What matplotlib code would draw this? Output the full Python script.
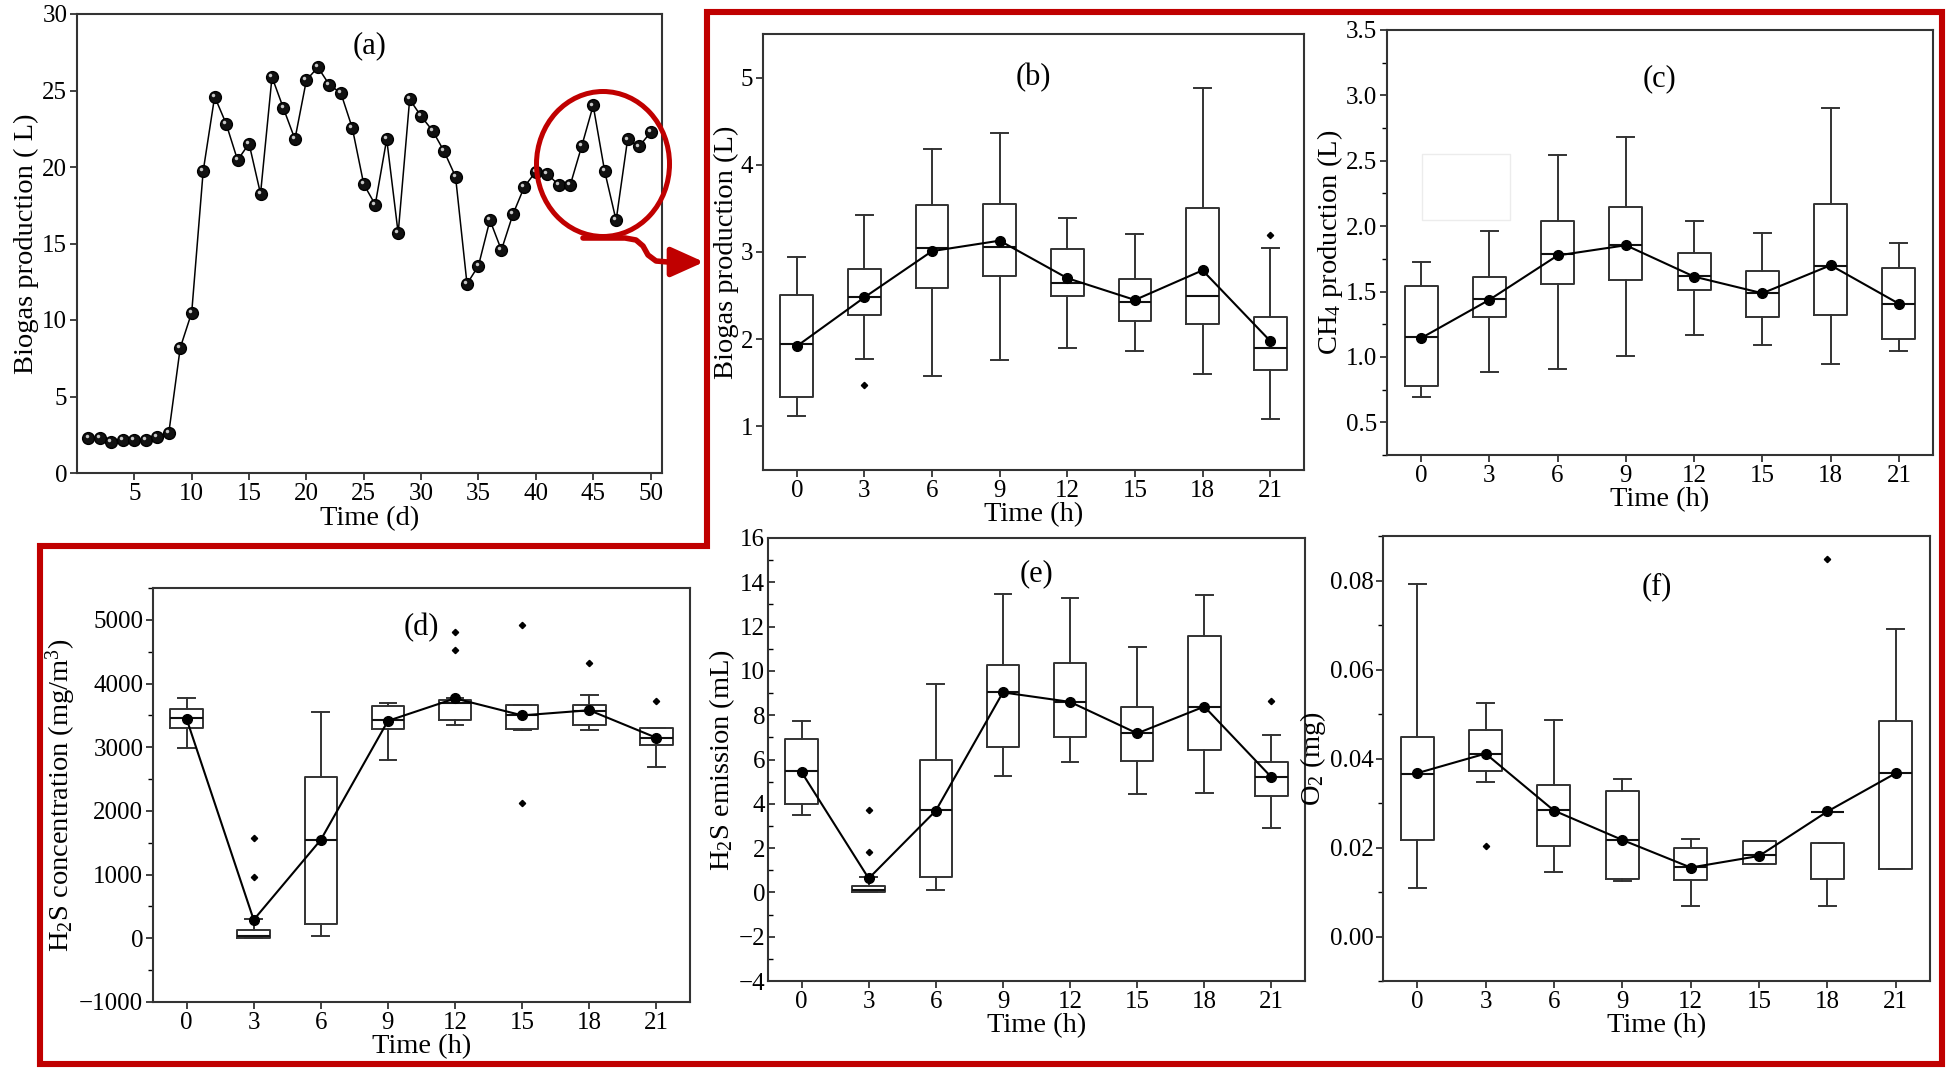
import matplotlib.pyplot as plt
import numpy as np
from matplotlib import transforms
from matplotlib.patches import Ellipse, FancyArrowPatch, Polygon, Rectangle
from matplotlib.path import Path
from matplotlib.ticker import MultipleLocator, FormatStrFormatter

plt.rcParams['font.family'] = ['Liberation Serif', 'DejaVu Serif']
plt.rcParams['mathtext.fontset'] = 'custom'
plt.rcParams['mathtext.rm'] = 'Liberation Serif'
plt.rcParams['mathtext.it'] = 'Liberation Serif:italic'

# ---- data -----------------------------------------------------------------
days = list(range(1, 51))
daily_biogas = [2.31, 2.31, 2.05, 2.14, 2.14, 2.14, 2.36, 2.6, 8.18, 10.49,
                19.73, 24.6, 22.83, 20.45, 21.53, 18.25, 25.88, 23.83, 21.82, 25.68,
                26.52, 25.37, 24.84, 22.55, 18.87, 17.54, 21.82, 15.67, 24.42, 23.32,
                22.37, 21.03, 19.37, 12.36, 13.55, 16.53, 14.57, 16.9, 18.71, 19.7,
                19.55, 18.82, 18.82, 21.36, 24.02, 19.73, 16.51, 21.8, 21.34, 22.26]

hours = [0, 3, 6, 9, 12, 15, 18, 21]

# (b) biogas production, L
b_low = [1.12, 1.77, 1.58, 1.76, 1.90, 1.86, 1.60, 1.09]
b_q1 = [1.34, 2.28, 2.59, 2.73, 2.50, 2.21, 2.18, 1.65]
b_med = [1.94, 2.48, 3.05, 3.06, 2.64, 2.43, 2.49, 1.90]
b_q3 = [2.51, 2.81, 3.54, 3.55, 3.03, 2.69, 3.50, 2.26]
b_high = [2.94, 3.42, 4.18, 4.37, 3.39, 3.21, 4.88, 3.05]
b_mean = [1.92, 2.48, 3.01, 3.13, 2.70, 2.45, 2.79, 1.98]
b_out = [[], [1.47], [], [], [], [], [], [3.19]]

# (c) CH4 production, L
c_low = [0.695, 0.882, 0.907, 1.007, 1.167, 1.094, 0.944, 1.047]
c_q1 = [0.775, 1.309, 1.554, 1.589, 1.511, 1.302, 1.324, 1.139]
c_med = [1.149, 1.442, 1.786, 1.856, 1.619, 1.489, 1.699, 1.407]
c_q3 = [1.539, 1.611, 2.041, 2.143, 1.796, 1.656, 2.166, 1.679]
c_high = [1.729, 1.961, 2.541, 2.68, 2.039, 1.944, 2.90, 1.869]
c_mean = [1.144, 1.437, 1.776, 1.854, 1.614, 1.487, 1.701, 1.407]
c_out = [[], [], [], [], [], [], [], []]

# (d) H2S concentration, mg/m3
d_low = [2986, 0, 30, 2800, 3350, 3275, 3267, 2683]
d_q1 = [3300, 10, 230, 3285, 3430, 3285, 3349, 3040]
d_med = [3457, 30, 1546, 3420, 3700, 3500, 3570, 3143]
d_q3 = [3603, 130, 2531, 3650, 3740, 3665, 3668, 3300]
d_high = [3771, 300, 3549, 3690, 3770, 3670, 3825, 3305]
d_mean = [3446, 290, 1546, 3414, 3766, 3500, 3581, 3148]
d_out = [[], [1573, 956], [], [], [4810, 4534], [4913, 2130], [4329], [3733]]

# (e) H2S emission, mL
e_low = [3.51, 0.0, 0.10, 5.24, 5.87, 4.46, 4.50, 2.89]
e_q1 = [4.00, 0.02, 0.69, 6.57, 7.02, 5.93, 6.41, 4.34]
e_med = [5.48, 0.10, 3.72, 9.03, 8.60, 7.18, 8.39, 5.20]
e_q3 = [6.94, 0.30, 5.96, 10.26, 10.37, 8.39, 11.56, 5.87]
e_high = [7.74, 0.68, 9.42, 13.46, 13.30, 11.09, 13.41, 7.11]
e_mean = [5.43, 0.63, 3.69, 9.03, 8.60, 7.18, 8.39, 5.20]
e_out = [[], [3.72, 1.81], [], [], [], [], [], [8.63]]

# (f) O2, mg
f_low = [0.0109, 0.0348, 0.0145, 0.0124, 0.0068, 0.0163, 0.0068, 0.0151]
f_q1 = [0.0216, 0.0373, 0.0203, 0.0130, 0.0128, 0.0163, 0.0130, 0.0151]
f_med = [0.0366, 0.0410, 0.0285, 0.0217, 0.0157, 0.0183, 0.0280, 0.0367]
f_q3 = [0.0448, 0.0463, 0.0341, 0.0326, 0.0200, 0.0215, 0.0210, 0.0485]
f_high = [0.0792, 0.0524, 0.0487, 0.0355, 0.0218, 0.0215, 0.0210, 0.0691]
f_mean = [0.0367, 0.0411, 0.0283, 0.0217, 0.0155, 0.0181, 0.0281, 0.0367]
f_out = [[], [0.0203], [], [], [], [], [0.0849], []]

# ---- figure ----------------------------------------------------------------
W, H = 1948, 1072
RED = '#C00000'
EDGE = '#333333'
TICK_FS = 18
LABEL_FS = 20.5
LETTER_FS = 22

fig = plt.figure(figsize=(W / 100, H / 100), dpi=100)


def px_rect(left, top, right, bottom):
    """Axes rectangle from pixel edges (origin top-left)."""
    return [left / W, 1 - bottom / H, (right - left) / W, (bottom - top) / H]


def px(x, y):
    return (x / W, 1 - y / H)


def style_axes(ax, ydir='out'):
    for sp in ax.spines.values():
        sp.set_linewidth(1.5)
        sp.set_color(EDGE)
    ax.tick_params(axis='both', which='major', labelsize=TICK_FS, width=1.3,
                   length=5, color=EDGE, pad=2)
    ax.tick_params(axis='y', which='both', direction=ydir)
    ax.tick_params(axis='y', which='minor', length=3.5, width=1.0)


def box_panel(ax, low, q1, med, q3, high, mean, out, ylabel, letter, letter_y):
    stats = []
    for i in range(len(hours)):
        stats.append(dict(whislo=low[i], q1=q1[i], med=med[i], q3=q3[i],
                          whishi=high[i], fliers=out[i]))
    line = dict(color=EDGE, linewidth=1.4)
    ax.bxp(stats, positions=hours, widths=1.45, capwidths=0.75,
           boxprops=line, whiskerprops=line, capprops=line,
           medianprops=dict(color='#111111', linewidth=1.5),
           flierprops=dict(marker='D', markersize=3.2, markerfacecolor='black',
                           markeredgecolor='black'),
           manage_ticks=False)
    ax.plot(hours, mean, '-o', color='black', linewidth=1.5, markersize=7, zorder=5)
    ax.set_xlim(-1.5, 22.5)
    ax.set_xticks(hours)
    ax.set_xlabel('Time (h)', fontsize=LABEL_FS, labelpad=0)
    ax.set_ylabel(ylabel, fontsize=LABEL_FS, labelpad=1)
    ax.text(0.5, letter_y, letter, transform=ax.transAxes, ha='center', va='center',
            fontsize=LETTER_FS)


# (a) daily biogas production
ax_a = fig.add_axes(px_rect(77, 14, 662, 473))
ax_a.plot(days, daily_biogas, '-', color='black', linewidth=1.1, zorder=2)
ax_a.plot(days, daily_biogas, 'o', color='#111111', markeredgecolor='black',
          markersize=8.5, zorder=3)
shine = transforms.offset_copy(ax_a.transData, fig=fig, x=-1.4, y=1.4, units='points')
ax_a.plot(days, daily_biogas, 'o', color='#c8c8c8', markeredgewidth=0,
          markersize=2.5, transform=shine, zorder=4)
ax_a.set_xlim(0, 51)
ax_a.set_ylim(0, 30)
ax_a.set_xticks(range(5, 51, 5))
ax_a.set_yticks(range(0, 31, 5))
ax_a.set_xlabel('Time (d)', fontsize=LABEL_FS, labelpad=1)
ax_a.set_ylabel('Biogas production ( L)', fontsize=LABEL_FS, labelpad=2)
ax_a.text(0.5, 0.93, '(a)', transform=ax_a.transAxes, ha='center', va='center',
          fontsize=LETTER_FS)
style_axes(ax_a)

# (b) biogas
ax_b = fig.add_axes(px_rect(763, 34, 1304, 470))
box_panel(ax_b, b_low, b_q1, b_med, b_q3, b_high, b_mean, b_out,
          'Biogas production (L)', '(b)', 0.90)
ax_b.set_ylim(0.5, 5.5)
ax_b.set_yticks([1, 2, 3, 4, 5])
style_axes(ax_b)

# (c) CH4
ax_c = fig.add_axes(px_rect(1387, 30, 1933, 455))
box_panel(ax_c, c_low, c_q1, c_med, c_q3, c_high, c_mean, c_out,
          'CH$_4$ production (L)', '(c)', 0.885)
ax_c.set_ylim(0.25, 3.5)
ax_c.yaxis.set_major_locator(MultipleLocator(0.5))
ax_c.yaxis.set_major_formatter(FormatStrFormatter('%.1f'))
ax_c.yaxis.set_minor_locator(MultipleLocator(0.25))
style_axes(ax_c)

# (d) H2S concentration
ax_d = fig.add_axes(px_rect(153, 588, 690, 1002))
box_panel(ax_d, d_low, d_q1, d_med, d_q3, d_high, d_mean, d_out,
          'H$_2$S concentration (mg/m$^3$)', '(d)', 0.905)
ax_d.set_ylim(-1000, 5500)
ax_d.yaxis.set_major_locator(MultipleLocator(1000))
ax_d.yaxis.set_minor_locator(MultipleLocator(500))
style_axes(ax_d)

# (e) H2S emission
ax_e = fig.add_axes(px_rect(768, 538, 1305, 981))
box_panel(ax_e, e_low, e_q1, e_med, e_q3, e_high, e_mean, e_out,
          'H$_2$S emission (mL)', '(e)', 0.92)
ax_e.set_ylim(-4, 16)
ax_e.yaxis.set_major_locator(MultipleLocator(2))
ax_e.yaxis.set_minor_locator(MultipleLocator(1))
style_axes(ax_e, ydir='in')

# (f) O2
ax_f = fig.add_axes(px_rect(1383, 536, 1930, 981))
box_panel(ax_f, f_low, f_q1, f_med, f_q3, f_high, f_mean, f_out,
          'O$_2$ (mg)', '(f)', 0.885)
ax_f.set_ylim(-0.01, 0.09)
ax_f.yaxis.set_major_locator(MultipleLocator(0.02))
ax_f.yaxis.set_major_formatter(FormatStrFormatter('%.2f'))
ax_f.yaxis.set_minor_locator(MultipleLocator(0.01))
style_axes(ax_f)

# faint leftover frame inside (c)
fig.add_artist(Rectangle(px(1422, 220), 88 / W, 66 / H, fill=False,
                         edgecolor='#ececec', linewidth=1.0,
                         transform=fig.transFigure))

# ---- red annotations -------------------------------------------------------
frame = Polygon([px(707, 12), px(1942, 12), px(1942, 1064), px(40, 1064),
                 px(40, 546), px(707, 546)], closed=True, fill=False,
                edgecolor=RED, linewidth=4.4, joinstyle='miter',
                transform=fig.transFigure)
fig.add_artist(frame)

ring = Ellipse(px(603, 164), 133 / W, 145 / H, fill=False, edgecolor=RED,
               linewidth=3.6, transform=fig.transFigure)
fig.add_artist(ring)

arrow_path = Path([px(583, 238), px(625, 238), px(636, 240), px(643, 246),
                   px(648, 255), px(656, 261), px(668, 262), px(704, 262)])
arrow = FancyArrowPatch(path=arrow_path,
                        arrowstyle='-|>,head_length=1.0,head_width=0.45',
                        mutation_scale=20, linewidth=4.0, color=RED,
                        joinstyle='round', transform=fig.transFigure)
fig.add_artist(arrow)

fig.savefig('out.png', dpi=100)
